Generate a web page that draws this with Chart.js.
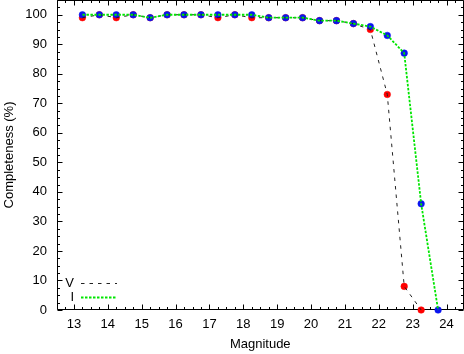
<!DOCTYPE html>
<html>
<head>
<meta charset="utf-8">
<script src="https://cdn.jsdelivr.net/npm/chart.js@4/dist/chart.umd.min.js"></script>
<style>
  html, body { margin: 0; padding: 0; background: #fff; }
  #wrap { width: 464px; height: 354px; position: relative; }
</style>
</head>
<body>
<div id="wrap"><canvas id="c" width="464" height="354"></canvas></div>
<script>
// ---- data ----
const magV = [13.25, 13.75, 14.25, 14.75, 15.25, 15.75, 16.25, 16.75, 17.25, 17.75, 18.25, 18.75, 19.25, 19.75, 20.25, 20.75, 21.25, 21.75, 22.25, 22.75, 23.25];
const complV = [99, 100, 99, 100, 99, 100, 100, 100, 99, 100, 99, 99, 99, 99, 98, 98, 97, 95, 73, 8, 0];
const magI = [13.25, 13.75, 14.25, 14.75, 15.25, 15.75, 16.25, 16.75, 17.25, 17.75, 18.25, 18.75, 19.25, 19.75, 20.25, 20.75, 21.25, 21.75, 22.25, 22.75, 23.25, 23.75];
const complI = [100, 100, 100, 100, 99, 100, 100, 100, 100, 100, 100, 99, 99, 99, 98, 98, 97, 96, 93, 87, 36, 0];
const xTicks = [13, 14, 15, 16, 17, 18, 19, 20, 21, 22, 23, 24];
const yTicks = [0, 10, 20, 30, 40, 50, 60, 70, 80, 90, 100];
const seriesNames = ['V', 'I'];

const FONT = "'Liberation Sans', Arial, Helvetica, sans-serif";
const ptsV = magV.map((x, i) => ({ x: x, y: complV[i] }));
const ptsI = magI.map((x, i) => ({ x: x, y: complI[i] }));

const frameTicks = {
  id: 'frameTicks',
  beforeDatasetsDraw(chart) {
    const { ctx, chartArea: a, scales } = chart;
    const xs = scales.x, ys = scales.y;
    ctx.save();
    ctx.strokeStyle = '#000';
    ctx.lineWidth = 1;
    ctx.beginPath();
    const L = Math.round(a.left) + 0.5, R = Math.round(a.right) - 0.5;
    const T = Math.max(0.5, Math.round(a.top) + 0.5), B = Math.round(a.bottom) - 0.5;
    ctx.rect(L, T, R - L, B - T);
    for (let v = 12.5; v <= 24.5001; v += 0.25) {
      const px = Math.round(xs.getPixelForValue(v)) + 0.5;
      const major = Math.abs(v - Math.round(v)) < 1e-6;
      const len = major ? 5 : 2.5;
      ctx.moveTo(px, B); ctx.lineTo(px, B - len);
      ctx.moveTo(px, T); ctx.lineTo(px, T + len);
    }
    for (let v = 0; v <= 105.001; v += 2.5) {
      const py = Math.round(ys.getPixelForValue(v)) + 0.5;
      const major = Math.abs(v / 10 - Math.round(v / 10)) < 1e-6;
      const len = major ? 5 : 2.5;
      ctx.moveTo(L, py); ctx.lineTo(L + len, py);
      ctx.moveTo(R, py); ctx.lineTo(R - len, py);
    }
    ctx.stroke();
    ctx.restore();
  },
  afterDatasetsDraw(chart) {
    const { ctx, chartArea: a } = chart;
    const ds = chart.data.datasets;
    const entries = [
      { label: seriesNames[0], d: ds[2], y: 283.5 },
      { label: seriesNames[1], d: ds[3], y: 297.5 }
    ];
    ctx.save();
    ctx.font = '13px ' + FONT;
    ctx.textAlign = 'right';
    ctx.textBaseline = 'middle';
    entries.forEach(e => {
      ctx.fillStyle = '#000';
      ctx.fillText(e.label, a.left + 17, e.y);
      ctx.strokeStyle = e.d.borderColor;
      ctx.lineWidth = e.d.borderWidth;
      ctx.setLineDash(e.d.borderDash);
      ctx.beginPath();
      ctx.moveTo(a.left + 24, e.y);
      ctx.lineTo(a.left + 60, e.y);
      ctx.stroke();
    });
    ctx.restore();
  }
};

new Chart(document.getElementById('c'), {
  type: 'scatter',
  data: {
    datasets: [
      { label: 'V pts', data: ptsV, showLine: false, pointRadius: 3.3, pointBackgroundColor: '#ff0000', pointBorderColor: '#ff0000', pointBorderWidth: 0.5, clip: false, order: 4 },
      { label: 'I pts', data: ptsI, showLine: false, pointRadius: 3.3, pointBackgroundColor: '#0a14f0', pointBorderColor: '#0a14f0', pointBorderWidth: 0.5, clip: false, order: 3 },
      { label: seriesNames[0], data: ptsV, showLine: true, pointRadius: 0, borderColor: '#222', borderWidth: 1, borderDash: [3.5, 5], tension: 0, clip: false, order: 2 },
      { label: seriesNames[1], data: ptsI, showLine: true, pointRadius: 0, borderColor: '#00e600', borderWidth: 1.8, borderDash: [2.5, 1.5], tension: 0, clip: false, order: 1 }
    ]
  },
  options: {
    responsive: false,
    animation: false,
    devicePixelRatio: 1,
    layout: { autoPadding: false, padding: { top: 0, right: 0.5, left: 0, bottom: 0 } },
    plugins: { legend: { display: false }, tooltip: { enabled: false } },
    scales: {
      x: {
        type: 'linear', min: 12.5, max: 24.5,
        grid: { display: false },
        border: { display: false },
        afterBuildTicks: s => { s.ticks = xTicks.map(v => ({ value: v })); },
        afterFit: s => { s.height = 44; s.paddingLeft = 0; s.paddingRight = 0; },
        ticks: { color: '#000', font: { family: FONT, size: 13 }, padding: -1, maxRotation: 0, autoSkip: false },
        title: { display: true, text: 'Magnitude', color: '#000', font: { family: FONT, size: 13 }, padding: { top: 0, bottom: 2 } }
      },
      y: {
        type: 'linear', min: 0, max: 105,
        grid: { display: false },
        border: { display: false },
        afterBuildTicks: s => { s.ticks = yTicks.map(v => ({ value: v })); },
        afterFit: s => { s.width = 57; s.paddingTop = 0; s.paddingBottom = 0; },
        ticks: { color: '#000', font: { family: FONT, size: 13 }, padding: 2, autoSkip: false },
        title: { display: true, text: 'Completeness (%)', color: '#000', font: { family: FONT, size: 13 }, padding: { top: 2, bottom: 0 } }
      }
    }
  },
  plugins: [frameTicks]
});
</script>
</body>
</html>
